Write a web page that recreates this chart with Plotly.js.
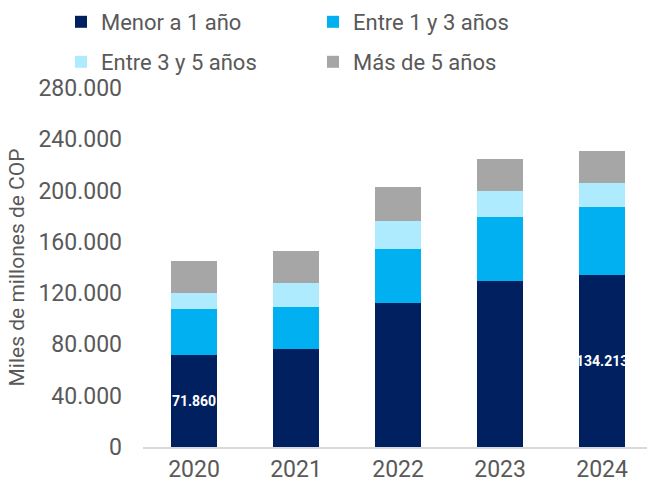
<!DOCTYPE html>
<html>
<head>
<meta charset="utf-8">
<script src="https://cdn.plot.ly/plotly-3.0.1.min.js"></script>
<style>html,body{margin:0;padding:0;background:#fff;}#chart{width:647px;height:491px;}</style>
</head>
<body>
<div id="chart"></div>
<script>
var years = ['2020', '2021', '2022', '2023', '2024'];
var menor1 = [71860, 76650, 112500, 129670, 134213];
var entre1y3 = [35900, 32750, 42100, 49900, 53160];
var entre3y5 = [12500, 18700, 21850, 20270, 18700];
var mas5 = [25000, 25000, 26500, 24950, 24950];
var menor1Labels = ['71.860', '', '', '', '134.213'];
var seriesNames = ['Menor a 1 año', 'Entre 1 y 3 años', 'Entre 3 y 5 años', 'Más de 5 años'];
var yTicks = [0, 40000, 80000, 120000, 160000, 200000, 240000, 280000];
var yTickText = ['0', '40.000', '80.000', '120.000', '160.000', '200.000', '240.000', '280.000'];

var colors = ['#002060', '#00B0F0', '#AFEBFF', '#A6A6A6'];
var font = 'Roboto, "Liberation Sans", sans-serif';

var traces = [
  {type: 'bar', x: years, y: menor1, name: seriesNames[0], marker: {color: colors[0]},
   text: menor1Labels, textposition: 'inside', insidetextanchor: 'middle', constraintext: 'none',
   textangle: 0, textfont: {family: font, size: 14, color: '#ffffff', weight: 'bold'},
   hoverinfo: 'skip', legend: 'legend'},
  {type: 'bar', x: years, y: entre1y3, name: seriesNames[1], marker: {color: colors[1]}, legend: 'legend2'},
  {type: 'bar', x: years, y: entre3y5, name: seriesNames[2], marker: {color: colors[2]}, legend: 'legend3'},
  {type: 'bar', x: years, y: mas5, name: seriesNames[3], marker: {color: colors[3]}, legend: 'legend4'}
];

var legendCommon = {
  orientation: 'h', xref: 'container', yref: 'container', xanchor: 'left', yanchor: 'middle',
  font: {family: font, size: 22, color: '#595959'},
  bgcolor: 'rgba(0,0,0,0)', itemclick: false
};
var row1 = 1 - 22 / 491, row2 = 1 - 62 / 491;
var col1 = 61 / 647, col2 = 313 / 647;

var layout = {
  width: 647, height: 491,
  margin: {l: 143, r: 0, t: 88, b: 44, autoexpand: false},
  paper_bgcolor: '#ffffff', plot_bgcolor: '#ffffff',
  barmode: 'stack', bargap: 0.55,
  font: {family: font, color: '#595959'},
  showlegend: true,
  legend: Object.assign({}, legendCommon, {x: col1, y: row1}),
  legend2: Object.assign({}, legendCommon, {x: col2, y: row1}),
  legend3: Object.assign({}, legendCommon, {x: col1, y: row2}),
  legend4: Object.assign({}, legendCommon, {x: col2, y: row2}),
  xaxis: {
    type: 'category', range: [-0.5, 4.44], showgrid: false, zeroline: false,
    showline: true, linecolor: '#D9D9D9', linewidth: 2, ticks: '',
    tickfont: {family: font, size: 23, color: '#595959'}, fixedrange: true
  },
  yaxis: {
    range: [0, 280000], tickvals: yTicks, ticktext: yTickText, showgrid: false,
    zeroline: false, showline: false, ticks: '', ticklabelstandoff: 20,
    tickfont: {family: font, size: 23, color: '#595959'},
    title: {text: 'Miles de millones de COP', font: {family: font, size: 21, color: '#595959'}, standoff: 8},
    fixedrange: true
  }
};

Plotly.newPlot('chart', traces, layout, {displayModeBar: false, staticPlot: true});
</script>
</body>
</html>
